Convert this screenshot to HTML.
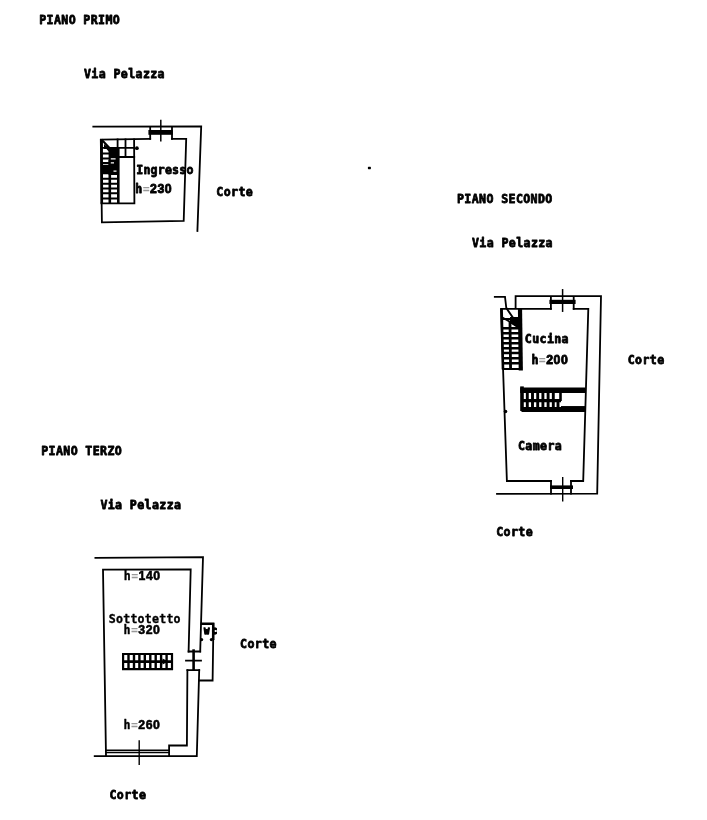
<!DOCTYPE html>
<html lang="it">
<head>
<meta charset="utf-8">
<title>Planimetria - Via Pelazza</title>
<style>
html,body{margin:0;padding:0;background:#fff;}
body{width:707px;height:820px;overflow:hidden;position:relative;}
svg{position:absolute;left:0;top:0;display:block;}
.t{font-family:"DejaVu Sans Mono","Liberation Mono",monospace;font-weight:bold;font-size:11.6px;letter-spacing:0.38px;fill:#000;stroke:#000;stroke-width:0.75;stroke-linejoin:round;}
.d{font-family:"Liberation Sans","DejaVu Sans",sans-serif;font-size:12.3px;letter-spacing:0.55px;stroke-width:0.8;}
.e{fill:#999;stroke:none;}
.t2{stroke-width:0.35;}
.t2 .d{stroke-width:0.55;}
.l{fill:none;stroke:#000;stroke-width:1.8;stroke-linecap:square;stroke-linejoin:miter;}
.k{fill:none;stroke:#000;stroke-width:3.6;stroke-linecap:butt;}
.m{fill:none;stroke:#000;stroke-width:2.6;stroke-linecap:butt;}
.s{fill:none;stroke:#000;stroke-width:2;}
.h{fill:none;stroke:#000;stroke-width:1.1;}
</style>
</head>
<body>
<svg width="707" height="820" viewBox="0 0 707 820">
<defs>
<filter id="scan" x="0" y="0" width="707" height="820" filterUnits="userSpaceOnUse">
<feGaussianBlur stdDeviation="0.45"/>
</filter>
</defs>
<rect x="0" y="0" width="707" height="820" fill="#fff"/>
<g filter="url(#scan)">
<!-- ============ PIANO PRIMO ============ -->
<g id="primo">
<text class="t" transform="translate(39.2 24.1) scale(1 1.1)">PIANO PRIMO</text>
<text class="t" transform="translate(84 78.4) scale(1 1.1)">Via Pelazza</text>
<text class="t" transform="translate(136.3 173.5) scale(1 1.1)" style="letter-spacing:0.18px">Ingresso</text>
<text class="t" transform="translate(135.3 193.2) scale(1 1.1)">h<tspan class="e">=</tspan><tspan class="d">230</tspan></text>
<text class="t" transform="translate(216.3 195.9) scale(1 1.1)">Corte</text>
<!-- outer -->
<path class="l" d="M93.3 126.6 L201.2 126.4 L197.4 231"/>
<!-- window top -->
<path class="l" d="M150.2 138.9 V128 M172 138.9 V128"/>
<path class="k" d="M148.4 132.4 H172.8" style="stroke-width:4.8"/>
<path d="M151.5 128.1 H159.3 V129 H151.5 Z M162.5 128.1 H170.5 V129 H162.5 Z" fill="#fff"/>
<path class="l" d="M160.8 120.6 V140.8" style="stroke-width:1.5"/>
<!-- room -->
<path class="l" d="M150.2 138.9 L100.8 139.6 L101.9 222.4 L183.7 220.9 L186.2 138.9 L172 138.9"/>
<!-- stairs -->
<path class="m" d="M101.6 139 L101.8 203.5"/>
<path class="m" d="M118.3 148 V203.5"/>
<path class="m" d="M109.8 160 V203"/>
<path class="l" d="M101.5 203.3 H134.3 M134.1 139.3 L134.4 203.3"/>
<path class="l" d="M117.6 139.3 V157 M125.5 139.3 V157 M101 147.8 H134.2 M117.6 157 H134.2"/>
<path class="s" d="M101 153.5 H118 M101 158.5 H118 M101 163 H118 M101 178.7 H118 M101 183.7 H118 M101 188.5 H118 M101 193.3 H118 M101 198.4 H118"/>
<path class="k" d="M102 166.5 H118 M102 169.5 H118 M102 172.5 H118"/>
<path class="s" d="M101.5 139.5 L118 157 M106 147 L118 160"/>
<path d="M108.6 148 H118.6 V175 H108.6 Z M104 144 L110 149 L104 149 Z" fill="#000"/>
<path d="M110.8 158.3 H115.6 V159.6 H110.8 Z M110.8 162.3 H114 V163.4 H110.8 Z M113.5 170.6 H116.5 V171.8 H113.5 Z" fill="#fff"/>
<circle cx="136.9" cy="148.2" r="1.9" fill="#000"/>
</g>
<!-- ============ PIANO SECONDO ============ -->
<g id="secondo">
<text class="t" transform="translate(457 203) scale(1 1.1)">PIANO SECONDO</text>
<text class="t" transform="translate(472 246.9) scale(1 1.1)">Via Pelazza</text>
<text class="t" transform="translate(524.8 342.9) scale(1 1.1)">Cucina</text>
<text class="t" transform="translate(531.4 364.4) scale(1 1.1)">h<tspan class="e">=</tspan><tspan class="d">200</tspan></text>
<text class="t" transform="translate(627.7 364) scale(1 1.1)">Corte</text>
<text class="t" transform="translate(518 450.2) scale(1 1.1)">Camera</text>
<text class="t" transform="translate(496.2 536) scale(1 1.1)">Corte</text>
<path class="l" d="M494.8 296.9 L505 296.9 L506.3 308"/>
<path class="l" d="M515.6 308 L515.6 296.2 L601 296.2 L597.2 493.6 L497 493.8"/>
<!-- window top -->
<path class="l" d="M550.9 296.8 V308.9 M573.7 296.8 V308.9"/>
<path class="k" d="M549.4 301.9 H575.6" style="stroke-width:4.2"/>
<path class="l" d="M562.6 289.8 V311.2" style="stroke-width:1.5"/>
<!-- room -->
<path class="l" d="M550.9 308.9 L501 308.9 L506.9 481 L551 481 M573.7 308.9 L588.3 308.9 L583.2 481 L571 481"/>
<!-- window bottom -->
<path class="l" d="M551 481 V493.6 M571 481 V493.6"/>
<path class="k" d="M550 487.2 H573"/>
<path class="l" d="M562.7 477.6 V500.8" style="stroke-width:1.4"/>
<!-- stair 1 -->
<path class="k" d="M520 309 L520.8 370.5" style="stroke-width:4.2"/>
<path class="m" d="M501.6 309 L503 369.5"/>
<path class="m" d="M510 322 L510.6 369" style="stroke-width:2.8"/>
<path class="s" d="M502.5 369 H521"/>
<path class="s" d="M502 328.2 H520 M502 333.2 H520 M502 338.2 H520 M502 343.2 H520 M502 348.2 H520 M502 353.1 H520 M502 358.2 H520 M502 363.2 H520" style="stroke-width:2.5"/>
<path class="s" d="M506.3 308 L518 325 M501.5 317 L519 327 M502 319 H519"/>
<path d="M510 317 L519 317 L519 329 L510 323 Z" fill="#000"/>
<circle cx="505.5" cy="411.5" r="1.8" fill="#000"/>
<!-- stair 2 -->
<path class="k" d="M520.2 390.3 H585.3" style="stroke-width:5.4"/>
<path class="k" d="M521.5 409.4 H585" style="stroke-width:5"/>
<path class="k" d="M522 386.4 V411"/>
<path class="m" d="M522 400.7 H561" style="stroke-width:3.2"/>
<path class="h" d="M561 406.6 H585"/>
<path class="m" d="M560.5 392 V401"/>
<path class="s" d="M527.3 392 V409 M532.5 392 V409 M537.7 392 V409 M542.9 392 V409 M548.1 392 V409 M553.3 392 V409 M558 401 V409" style="stroke-width:2.9"/>
</g>
<!-- ============ PIANO TERZO ============ -->
<g id="terzo">
<text class="t" transform="translate(41.2 455.4) scale(1 1.1)">PIANO TERZO</text>
<text class="t" transform="translate(100.4 509.2) scale(1 1.1)">Via Pelazza</text>
<text class="t t2" transform="translate(123.8 580.3) scale(1 1.1)">h<tspan class="e">=</tspan><tspan class="d">140</tspan></text>
<text class="t t2" transform="translate(108.8 623.3) scale(1 1.1)" style="letter-spacing:0.22px">Sottotetto</text>
<text class="t t2" transform="translate(123.6 633.8) scale(1 1.1)">h<tspan class="e">=</tspan><tspan class="d">320</tspan></text>
<text class="t t2" transform="translate(123.6 729.3) scale(1 1.1)">h<tspan class="e">=</tspan><tspan class="d">260</tspan></text>
<text class="t" transform="translate(240.1 647.9) scale(1 1.1)">Corte</text>
<text class="t" transform="translate(109.5 799.2) scale(1 1.1)">Corte</text>
<text class="t" transform="translate(204 634) scale(1 1.1)" style="font-size:9px;letter-spacing:2.4px;stroke-width:1.2">wc</text>
<!-- outer -->
<path class="l" d="M95.4 557.8 L203 557.2 L200.2 651.5"/>
<path class="l" d="M199.2 670.2 L196.8 756.1 L94.7 756.1"/>
<!-- room -->
<path class="l" d="M103 569.7 L190.7 569.4 L188.6 651.5 M187.4 670.2 L186.9 745.5 L169.1 745.5 L169.1 756 M103 569.7 L106 756 M106 750.3 L169.1 750.3"/>
<!-- door -->
<path class="l" d="M188.6 651.5 H200.2 M187.4 670.2 H199.2 M186 660.6 H201"/>
<path class="m" d="M193.6 649.3 V670.5"/>
<!-- wc box -->
<path class="m" d="M200.5 623.8 H214.4 M213.3 623 L213.2 640"/><path class="l" d="M213.2 640 L212.6 680.5 L199.5 680.5"/>
<circle cx="201.6" cy="639.6" r="1.6" fill="#000"/>
<circle cx="211.4" cy="639.6" r="1.6" fill="#000"/>
<!-- bottom window -->
<path class="l" d="M139.2 741 V764.4" style="stroke-width:1.4"/>
<path class="h" d="M106 752.6 H169"/>
<!-- stairs -->
<path class="l" d="M123.1 654 H172 V669.2 H123.1 Z" style="stroke-width:2.2"/>
<path class="s" d="M123 661.6 H172" style="stroke-width:2.6"/>
<path class="s" d="M128.5 654 V669 M134.0 654 V669 M139.4 654 V669 M144.8 654 V669 M150.3 654 V669 M155.7 654 V669 M161.1 654 V669 M166.6 654 V669" style="stroke-width:2.4"/>
<path d="M168.5 661.6 L162.5 658.6 V664.6 Z" fill="#000"/>
</g>
<!-- specks -->
<rect x="367.9" y="166.8" width="3" height="2.4" rx="0.6" fill="#000"/>
</g>
</svg>
</body>
</html>
